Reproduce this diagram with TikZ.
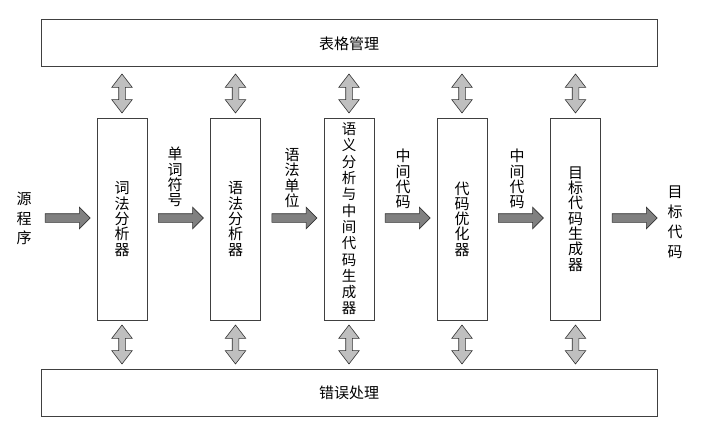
\documentclass[tikz,border=0pt]{standalone}
\usepackage{fontspec}
\setmainfont{Noto Sans CJK SC}
\usetikzlibrary{shapes.arrows,calc}
\begin{document}
\begin{tikzpicture}[x=1pt,y=-1pt,
  box/.style={draw=black!75, line width=1pt, fill=white, inner sep=0pt},
  bar/.style={box, minimum width=616pt, minimum height=47pt, font=\fontsize{15}{15}\selectfont},
  stage/.style={box, minimum width=50pt, minimum height=202pt, align=center, font=\fontsize{15}{15.3}\selectfont},
  vlabel/.style={align=center, inner sep=0pt, font=\fontsize{15}{15.3}\selectfont},
  flow/.style={single arrow, draw=black!80, fill=black!50, line width=0.6pt, inner sep=0pt, inner ysep=4pt,
    minimum height=45pt, single arrow head extend=6.5pt},
  link/.style={double arrow, draw=black!80, fill=black!25, line width=0.6pt, inner sep=0pt, inner ysep=3pt,
    minimum height=39pt, double arrow head extend=7pt, double arrow tip angle=75, rotate=90}]
\useasboundingbox (0,0) rectangle (703,425);
\node [bar] (tbl) at (349,43.5) {表格管理};
\node [bar] (err) at (349,392.5) {错误处理};
\node [stage] (lex) at (122,219) {词\\法\\分\\析\\器};
\node [stage] (syn) at (235.5,219) {语\\法\\分\\析\\器};
\node [stage, font=\fontsize{14.5}{16.3}\selectfont] (sem) at (349,219) {语\\义\\分\\析\\与\\中\\间\\代\\码\\生\\成\\器};
\node [stage] (opt) at (462,219) {代\\码\\优\\化\\器};
\node [stage] (gen) at (575.5,219) {目\\标\\代\\码\\生\\成\\器};
\node [vlabel, font=\fontsize{15}{19.5}\selectfont] (src) at (24,218.5) {源\\程\\序};
\node [vlabel] (tok) at (175,177) {单\\词\\符\\号};
\node [vlabel] (unit) at (292,178) {语\\法\\单\\位};
\node [vlabel] (mid1) at (403,179) {中\\间\\代\\码};
\node [vlabel] (mid2) at (517,179) {中\\间\\代\\码};
\node [vlabel, font=\fontsize{15}{20}\selectfont] (obj) at (675,222.5) {目\\标\\代\\码};
\node [flow] (a1) at (65.5,218) {};
\node [flow] (a2) at ($(lex.east)!0.5!(syn.west)+(0,-1)$) {};
\node [flow] (a3) at ($(syn.east)!0.5!(sem.west)+(0,-1)$) {};
\node [flow] (a4) at ($(sem.east)!0.5!(opt.west)+(0,-1)$) {};
\node [flow] (a5) at ($(opt.east)!0.5!(gen.west)+(0,-1)$) {};
\node [flow] (a6) at (632.5,218) {};
\foreach \s in {lex,syn,sem,opt,gen} {
  \node [link] (up-\s) at ($(\s.north)!0.5!(\s.north|-tbl.south)+(0,1)$) {};
  \node [link] (dn-\s) at ($(\s.south)!0.5!(\s.south|-err.north)$) {};
}
\end{tikzpicture}
\end{document}
